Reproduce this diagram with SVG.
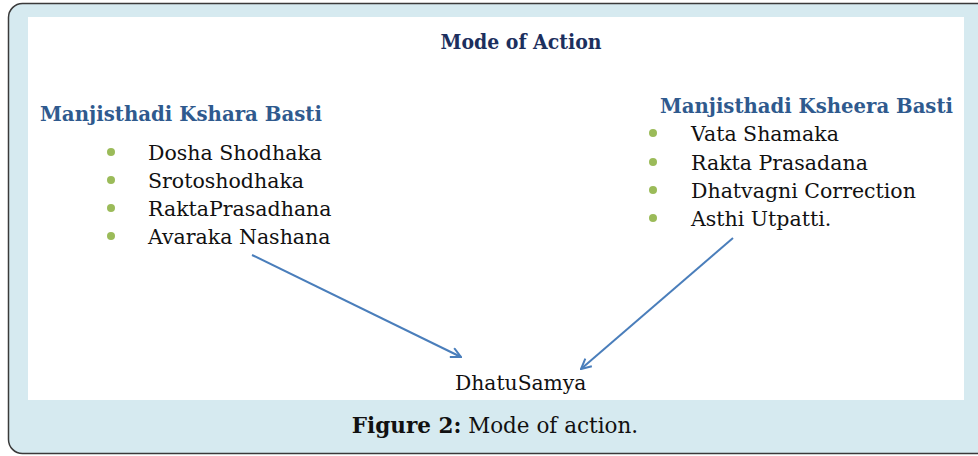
<svg xmlns="http://www.w3.org/2000/svg" width="978" height="456" viewBox="0 0 978 456">
<style>
.t{font-family:"DejaVu Serif","Liberation Serif",serif;fill:#111}
.h{font-family:"DejaVu Serif","Liberation Serif",serif;font-weight:bold;fill:#2f5a8e}
.item{font-size:20.5px}
.b{fill:#9bbb59}
.c{stroke:#4a7ebb;stroke-width:2;fill:none}
</style>
<defs>
<marker id="ah" viewBox="0 0 12 12" refX="11" refY="6" markerWidth="12" markerHeight="12" markerUnits="userSpaceOnUse" orient="auto">
<path d="M1,1 L11,6 L1,11" fill="none" stroke="#4a7ebb" stroke-width="2"/>
</marker>
</defs>
<rect x="8.5" y="3.5" width="990" height="450" rx="14" fill="#d6eaf0" stroke="#3a3a3a" stroke-width="1.5"/>
<rect x="28" y="17" width="936" height="383" fill="#fff"/>
<g id="title"><text x="521" y="49" text-anchor="middle" style="font-family:'DejaVu Serif Condensed','DejaVu Serif',serif;font-weight:bold;font-size:21px;fill:#1c2f5e">Mode of Action</text></g>
<g id="left">
<text class="h" x="40" y="121" font-size="20" textLength="282" lengthAdjust="spacingAndGlyphs">Manjisthadi Kshara Basti</text>
<circle class="b" cx="111" cy="152" r="4"/><text class="t item" x="148" y="160">Dosha Shodhaka</text>
<circle class="b" cx="111" cy="180" r="4"/><text class="t item" x="148" y="188">Srotoshodhaka</text>
<circle class="b" cx="111" cy="208" r="4"/><text class="t item" x="148" y="216">RaktaPrasadhana</text>
<circle class="b" cx="111" cy="236" r="4"/><text class="t item" x="148" y="244">Avaraka Nashana</text>
</g>
<g id="right">
<text class="h" x="660" y="113" font-size="20" textLength="293" lengthAdjust="spacingAndGlyphs">Manjisthadi Ksheera Basti</text>
<circle class="b" cx="653" cy="133" r="4"/><text class="t item" x="691" y="141">Vata Shamaka</text>
<circle class="b" cx="653" cy="162" r="4"/><text class="t item" x="691" y="170">Rakta Prasadana</text>
<circle class="b" cx="653" cy="190" r="4"/><text class="t item" x="691" y="198">Dhatvagni Correction</text>
<circle class="b" cx="653" cy="218" r="4"/><text class="t item" x="691" y="226">Asthi Utpatti.</text>
</g>
<g id="result"><text class="t" x="455" y="390" font-size="20.3">DhatuSamya</text></g>
<g id="connectors">
<line class="c" x1="252" y1="255" x2="461" y2="357" marker-end="url(#ah)"/>
<line class="c" x1="733" y1="238" x2="581" y2="369" marker-end="url(#ah)"/>
</g>
<g id="caption"><text x="495" y="433" text-anchor="middle" style="font-family:'DejaVu Serif','Liberation Serif',serif;font-size:21.5px;fill:#111"><tspan font-weight="bold">Figure 2:</tspan> Mode of action.</text></g>
</svg>
